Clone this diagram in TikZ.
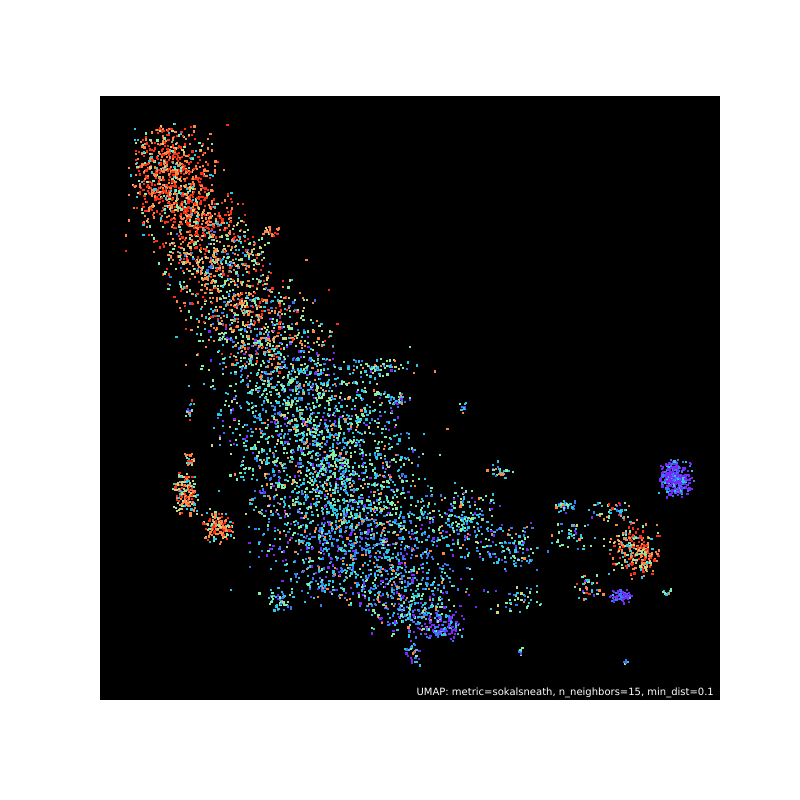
\documentclass[tikz,border=0pt]{standalone}
\usepackage{fontspec}
\setmainfont{DejaVu Sans}
\definecolor{c1}{RGB}{120,40,250}
\definecolor{c2}{RGB}{55,120,245}
\definecolor{c3}{RGB}{40,200,230}
\definecolor{c4}{RGB}{130,240,170}
\definecolor{c5}{RGB}{205,215,125}
\definecolor{c6}{RGB}{255,135,70}
\definecolor{c7}{RGB}{255,45,20}
\pgfmathdeclarerandomlist{red}{{c7}{c7}{c7}{c7}{c7}{c6}{c6}{c6}{c6}{c5}{c4}{c3}}
\pgfmathdeclarerandomlist{orange}{{c7}{c7}{c6}{c6}{c6}{c5}{c5}{c4}{c4}{c3}{c2}}
\pgfmathdeclarerandomlist{mix}{{c7}{c6}{c6}{c5}{c4}{c4}{c4}{c3}{c3}{c2}{c1}}
\pgfmathdeclarerandomlist{cyan}{{c6}{c5}{c4}{c4}{c4}{c4}{c3}{c3}{c3}{c3}{c3}{c2}{c2}{c1}}
\pgfmathdeclarerandomlist{blue}{{c6}{c4}{c4}{c3}{c3}{c3}{c3}{c2}{c2}{c2}{c1}{c1}}
\pgfmathdeclarerandomlist{purple}{{c1}{c1}{c1}{c1}{c1}{c2}{c2}{c3}}
\pgfmathdeclarerandomlist{warm}{{c7}{c7}{c6}{c6}{c6}{c5}{c4}{c3}}
\newcommand\pblob[6]{%
  \foreach \k in {1,...,#5}{%
    \pgfmathsetmacro\px{#1+#3*(rand+rand)/2}%
    \pgfmathsetmacro\py{#2+#4*(rand+rand)/2}%
    \pgfmathrandomitem{\cc}{#6}%
    \fill[\cc] (\px,\py) rectangle ++(2.2,2.2);}}
\begin{document}
\begin{tikzpicture}[x=1pt,y=-1pt]
\useasboundingbox (0,0) rectangle (800,800);
\fill[white] (0,0) rectangle (800,800);
\fill[black] (100,96) rectangle (720,700);
\pgfmathsetseed{7}
% main band
\pblob{170}{150}{45}{32}{260}{red}
\pblob{172}{185}{50}{32}{380}{red}
\pblob{195}{222}{58}{34}{360}{red}
\pblob{215}{262}{65}{34}{340}{orange}
\pblob{240}{302}{68}{34}{320}{orange}
\pblob{265}{342}{80}{34}{340}{mix}
\pblob{292}{382}{95}{34}{390}{cyan}
\pblob{312}{422}{102}{34}{440}{cyan}
\pblob{328}{462}{105}{34}{490}{cyan}
\pblob{348}{502}{112}{34}{530}{cyan}
\pblob{362}{542}{118}{34}{500}{blue}
\pblob{375}{580}{100}{30}{370}{blue}
\pblob{415}{615}{50}{22}{200}{blue}
\pblob{440}{625}{25}{16}{90}{purple}
\pblob{413}{652}{10}{14}{30}{blue}
% sparse halo
\pblob{180}{200}{70}{90}{60}{red}
\pblob{250}{320}{90}{80}{70}{orange}
\pblob{330}{470}{140}{140}{150}{cyan}
\pblob{400}{590}{110}{60}{60}{blue}
% tip and edges
\pblob{158}{128}{4}{5}{8}{red}
\pblob{270}{232}{12}{8}{20}{red}
\pblob{375}{367}{35}{10}{60}{cyan}
\pblob{395}{400}{20}{10}{40}{blue}
\pblob{462}{407}{4}{6}{10}{blue}
\pblob{280}{600}{15}{15}{50}{cyan}
\pblob{188}{410}{6}{15}{15}{mix}
% right trail
\pblob{465}{520}{35}{35}{160}{cyan}
\pblob{510}{545}{40}{25}{110}{blue}
\pblob{500}{470}{15}{10}{25}{cyan}
\pblob{565}{505}{12}{8}{40}{blue}
\pblob{570}{535}{25}{15}{40}{cyan}
\pblob{520}{600}{30}{18}{40}{cyan}
\pblob{585}{585}{20}{15}{35}{mix}
\pblob{520}{650}{3}{5}{8}{cyan}
% left warm clusters
\pblob{185}{492}{14}{24}{160}{warm}
\pblob{217}{525}{17}{18}{140}{warm}
\pblob{188}{460}{6}{10}{25}{warm}
% right clusters
\pblob{675}{478}{19}{20}{330}{purple}
\pblob{632}{548}{30}{32}{200}{warm}
\pblob{645}{555}{8}{18}{60}{warm}
\pblob{610}{510}{25}{15}{50}{mix}
\pblob{620}{595}{12}{8}{70}{purple}
\pblob{667}{592}{8}{4}{15}{cyan}
\pblob{625}{662}{2}{4}{5}{cyan}
\node[anchor=base east,text=white,inner sep=0pt,font=\fontsize{10}{12}\selectfont] (title) at (714,695) {UMAP: metric=sokalsneath, n\_neighbors=15, min\_dist=0.1};
\end{tikzpicture}
\end{document}
